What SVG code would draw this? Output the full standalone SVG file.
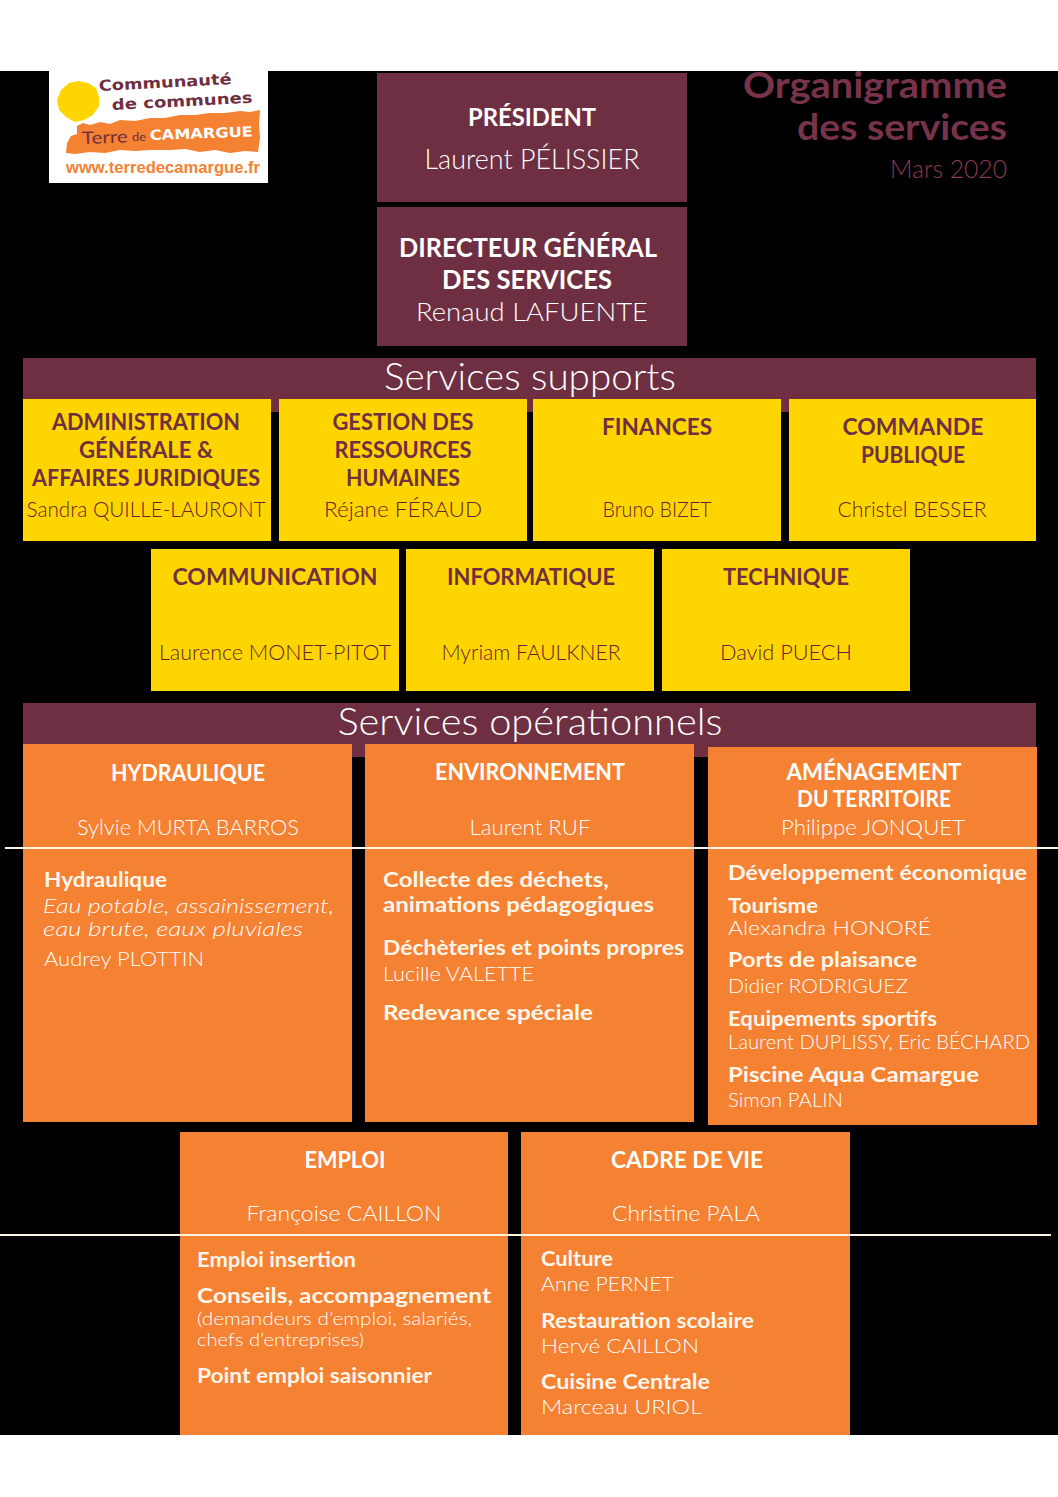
<svg xmlns="http://www.w3.org/2000/svg" width="1058" height="1497" viewBox="0 0 1058 1497">
<style>
text{font-family:"Lato","Open Sans","Liberation Sans",sans-serif;fill:#fff}
.b{font-weight:700}
.l{font-weight:300}
.m{text-anchor:middle}
.r{text-anchor:end}
.dk{fill:#6f2f42}
.tt{fill:#773349}
.h{font-size:23px;font-weight:700;fill:#6f2f42;text-anchor:middle}
.n{font-size:21px;font-weight:300;fill:#5f2436;text-anchor:middle}
.oh{font-size:22px;font-weight:700;text-anchor:middle}
.on{font-size:21px;font-weight:300;text-anchor:middle;fill:#fff}
.s{font-size:20px;font-weight:700;fill:#fff6ec}
.p{font-size:20px;font-weight:300;fill:#fff}
.q{font-size:18px;font-weight:300;fill:#fff}
.y{fill:#ffd500}.o{fill:#f58133}.mr{fill:#6f2f42}
.lg{font-family:"DejaVu Sans","Liberation Sans",sans-serif;font-weight:700;fill:#6f2f42}
</style>
<rect width="1058" height="1497" fill="#fff"/>
<rect y="71" width="1058" height="1364" fill="#000"/>
<g id="title">
<text class="r b tt" x="1007" y="98" font-size="37" textLength="264" lengthAdjust="spacingAndGlyphs">Organigramme</text>
<text class="r b tt" x="1007" y="140" font-size="37" textLength="210" lengthAdjust="spacingAndGlyphs">des services</text>
<text class="r" style="fill:#8a3c52" x="1007" y="178" font-size="26" font-weight="300" textLength="117" lengthAdjust="spacingAndGlyphs">Mars 2020</text>
</g>
<rect width="1058" height="71" fill="#fff"/>
<g id="logo">
<rect x="49" y="69" width="219" height="114" fill="#fff"/>
<path d="M78 81L88 83L96 88L99 97L99 106L93 115L84 120L75 122L66 117L59 110L57 100L61 90L69 83Z" fill="#ffd500"/>
<path class="o" d="M77 126L83 123L90 125L100 122L110 124L120 120L135 121L150 118L165 118L180 115L195 115L210 113L225 113L240 111L250 112L260 110L259 125L260 138L258 152L245 151L230 153L215 150L200 152L185 149L170 150L150 150L135 151L120 150L105 153L90 152L75 154L66 153L67 143L71 136L77 134Z"/>
<text class="lg" x="99" y="91" font-size="15" textLength="133" lengthAdjust="spacingAndGlyphs" transform="rotate(-3 99 91)">Communauté</text>
<text class="lg" x="112" y="110" font-size="15" textLength="141" lengthAdjust="spacingAndGlyphs" transform="rotate(-3 112 110)">de communes</text>
<text x="82" y="144" font-size="17" class="dk" textLength="46" lengthAdjust="spacingAndGlyphs" transform="rotate(-2 82 144)">Terre</text>
<text x="132" y="141" font-size="11" class="dk" textLength="14" lengthAdjust="spacingAndGlyphs">de</text>
<text class="lg" style="fill:#fff" x="150" y="140" font-size="14" textLength="103" lengthAdjust="spacingAndGlyphs" transform="rotate(-2 150 140)">CAMARGUE</text>
<text x="66" y="173" font-size="16" font-weight="700" style="fill:#f58133;font-family:'Liberation Sans',sans-serif" textLength="194" lengthAdjust="spacingAndGlyphs">www.terredecamargue.fr</text>
</g>
<g id="president">
<rect class="mr" x="377" y="73" width="310" height="129"/>
<text class="m b" x="532" y="126" font-size="25" textLength="128" lengthAdjust="spacingAndGlyphs">PRÉSIDENT</text>
<text class="m l" x="532" y="169" font-size="27" textLength="215" lengthAdjust="spacingAndGlyphs">Laurent PÉLISSIER</text>
</g>
<g id="dgs">
<rect class="mr" x="377" y="207" width="310" height="139"/>
<text class="m b" x="528" y="257" font-size="26" textLength="258" lengthAdjust="spacingAndGlyphs">DIRECTEUR GÉNÉRAL</text>
<text class="m b" x="527" y="289" font-size="26" textLength="170" lengthAdjust="spacingAndGlyphs">DES SERVICES</text>
<text class="m l" x="532" y="321" font-size="26" textLength="232" lengthAdjust="spacingAndGlyphs">Renaud LAFUENTE</text>
</g>
<g id="supports-bar">
<rect class="mr" x="23" y="358" width="1013" height="54"/>
<text class="m l" x="530" y="390" font-size="37" textLength="292" lengthAdjust="spacingAndGlyphs">Services supports</text>
</g>
<g id="admin">
<rect class="y" x="23" y="399" width="248" height="142"/>
<text class="h" x="146" y="430" textLength="188" lengthAdjust="spacingAndGlyphs">ADMINISTRATION</text>
<text class="h" x="146" y="458" textLength="134" lengthAdjust="spacingAndGlyphs">GÉNÉRALE &amp;</text>
<text class="h" x="146" y="486" textLength="228" lengthAdjust="spacingAndGlyphs">AFFAIRES JURIDIQUES</text>
<text class="n" x="146" y="517" textLength="239" lengthAdjust="spacingAndGlyphs">Sandra QUILLE-LAURONT</text>
</g>
<g id="grh">
<rect class="y" x="279" y="399" width="248" height="142"/>
<text class="h" x="403" y="430" textLength="141" lengthAdjust="spacingAndGlyphs">GESTION DES</text>
<text class="h" x="403" y="458" textLength="137" lengthAdjust="spacingAndGlyphs">RESSOURCES</text>
<text class="h" x="403" y="486" textLength="114" lengthAdjust="spacingAndGlyphs">HUMAINES</text>
<text class="n" x="403" y="517" textLength="158" lengthAdjust="spacingAndGlyphs">Réjane FÉRAUD</text>
</g>
<g id="finances">
<rect class="y" x="533" y="399" width="248" height="142"/>
<text class="h" x="657" y="435" textLength="110" lengthAdjust="spacingAndGlyphs">FINANCES</text>
<text class="n" x="657" y="517" textLength="109" lengthAdjust="spacingAndGlyphs">Bruno BIZET</text>
</g>
<g id="commande">
<rect class="y" x="789" y="399" width="247" height="142"/>
<text class="h" x="913" y="435" textLength="141" lengthAdjust="spacingAndGlyphs">COMMANDE</text>
<text class="h" x="913" y="463" textLength="104" lengthAdjust="spacingAndGlyphs">PUBLIQUE</text>
<text class="n" x="912" y="517" textLength="149" lengthAdjust="spacingAndGlyphs">Christel BESSER</text>
</g>
<g id="communication">
<rect class="y" x="151" y="549" width="248" height="142"/>
<text class="h" x="275" y="585" textLength="205" lengthAdjust="spacingAndGlyphs">COMMUNICATION</text>
<text class="n" x="275" y="660" textLength="232" lengthAdjust="spacingAndGlyphs">Laurence MONET-PITOT</text>
</g>
<g id="informatique">
<rect class="y" x="406" y="549" width="248" height="142"/>
<text class="h" x="531" y="585" textLength="168" lengthAdjust="spacingAndGlyphs">INFORMATIQUE</text>
<text class="n" x="531" y="660" textLength="179" lengthAdjust="spacingAndGlyphs">Myriam FAULKNER</text>
</g>
<g id="technique">
<rect class="y" x="662" y="549" width="248" height="142"/>
<text class="h" x="786" y="585" textLength="126" lengthAdjust="spacingAndGlyphs">TECHNIQUE</text>
<text class="n" x="786" y="660" textLength="132" lengthAdjust="spacingAndGlyphs">David PUECH</text>
</g>
<g id="operationnels-bar">
<rect class="mr" x="23" y="703" width="1013" height="54"/>
<text class="m l" x="530" y="735" font-size="37" textLength="385" lengthAdjust="spacingAndGlyphs">Services opérationnels</text>
</g>
<g id="hydraulique">
<rect class="o" x="23" y="744" width="329" height="378"/>
<text class="oh" x="188" y="781" textLength="154" lengthAdjust="spacingAndGlyphs">HYDRAULIQUE</text>
<text class="on" x="188" y="835" textLength="222" lengthAdjust="spacingAndGlyphs">Sylvie MURTA BARROS</text>
<text class="s" x="44" y="887" textLength="123" lengthAdjust="spacingAndGlyphs">Hydraulique</text>
<text class="p" x="43" y="913" font-style="italic" textLength="291" lengthAdjust="spacingAndGlyphs">Eau potable, assainissement,</text>
<text class="p" x="43" y="936" font-style="italic" textLength="260" lengthAdjust="spacingAndGlyphs">eau brute, eaux pluviales</text>
<text class="p" x="44" y="966" textLength="160" lengthAdjust="spacingAndGlyphs">Audrey PLOTTIN</text>
</g>
<g id="environnement">
<rect class="o" x="365" y="744" width="329" height="378"/>
<text class="oh" x="530" y="780" textLength="190" lengthAdjust="spacingAndGlyphs">ENVIRONNEMENT</text>
<text class="on" x="530" y="835" textLength="121" lengthAdjust="spacingAndGlyphs">Laurent RUF</text>
<text class="s" x="383" y="887" textLength="226" lengthAdjust="spacingAndGlyphs">Collecte des déchets,</text>
<text class="s" x="383" y="912" textLength="271" lengthAdjust="spacingAndGlyphs">animations pédagogiques</text>
<text class="s" x="383" y="955" textLength="301" lengthAdjust="spacingAndGlyphs">Déchèteries et points propres</text>
<text class="p" x="383" y="981" textLength="151" lengthAdjust="spacingAndGlyphs">Lucille VALETTE</text>
<text class="s" x="383" y="1020" textLength="210" lengthAdjust="spacingAndGlyphs">Redevance spéciale</text>
</g>
<g id="amenagement">
<rect class="o" x="708" y="747" width="329" height="378"/>
<text class="oh" x="874" y="780" textLength="175" lengthAdjust="spacingAndGlyphs">AMÉNAGEMENT</text>
<text class="oh" x="874" y="807" textLength="154" lengthAdjust="spacingAndGlyphs">DU TERRITOIRE</text>
<text class="on" x="873" y="835" textLength="184" lengthAdjust="spacingAndGlyphs">Philippe JONQUET</text>
<text class="s" x="728" y="880" textLength="299" lengthAdjust="spacingAndGlyphs">Développement économique</text>
<text class="s" x="728" y="913" textLength="90" lengthAdjust="spacingAndGlyphs">Tourisme</text>
<text class="p" x="728" y="935" textLength="203" lengthAdjust="spacingAndGlyphs">Alexandra HONORÉ</text>
<text class="s" x="728" y="967" textLength="189" lengthAdjust="spacingAndGlyphs">Ports de plaisance</text>
<text class="p" x="728" y="993" textLength="180" lengthAdjust="spacingAndGlyphs">Didier RODRIGUEZ</text>
<text class="s" x="728" y="1026" textLength="209" lengthAdjust="spacingAndGlyphs">Equipements sportifs</text>
<text class="p" x="728" y="1049" textLength="302" lengthAdjust="spacingAndGlyphs">Laurent DUPLISSY, Eric BÉCHARD</text>
<text class="s" x="728" y="1082" textLength="251" lengthAdjust="spacingAndGlyphs">Piscine Aqua Camargue</text>
<text class="p" x="728" y="1107" textLength="115" lengthAdjust="spacingAndGlyphs">Simon PALIN</text>
</g>
<g id="emploi">
<rect class="o" x="180" y="1132" width="328" height="303"/>
<text class="oh" x="345" y="1168" textLength="81" lengthAdjust="spacingAndGlyphs">EMPLOI</text>
<text class="on" x="344" y="1221" textLength="195" lengthAdjust="spacingAndGlyphs">Françoise CAILLON</text>
<text class="s" x="197" y="1267" textLength="159" lengthAdjust="spacingAndGlyphs">Emploi insertion</text>
<text class="s" x="197" y="1303" textLength="294" lengthAdjust="spacingAndGlyphs">Conseils, accompagnement</text>
<text class="q" x="197" y="1325" textLength="275" lengthAdjust="spacingAndGlyphs">(demandeurs d’emploi, salariés,</text>
<text class="q" x="197" y="1346" textLength="167" lengthAdjust="spacingAndGlyphs">chefs d’entreprises)</text>
<text class="s" x="197" y="1383" textLength="235" lengthAdjust="spacingAndGlyphs">Point emploi saisonnier</text>
</g>
<g id="cadre-de-vie">
<rect class="o" x="521" y="1132" width="329" height="303"/>
<text class="oh" x="687" y="1168" textLength="152" lengthAdjust="spacingAndGlyphs">CADRE DE VIE</text>
<text class="on" x="686" y="1221" textLength="148" lengthAdjust="spacingAndGlyphs">Christine PALA</text>
<text class="s" x="541" y="1266" textLength="72" lengthAdjust="spacingAndGlyphs">Culture</text>
<text class="p" x="541" y="1291" textLength="133" lengthAdjust="spacingAndGlyphs">Anne PERNET</text>
<text class="s" x="541" y="1328" textLength="213" lengthAdjust="spacingAndGlyphs">Restauration scolaire</text>
<text class="p" x="541" y="1353" textLength="158" lengthAdjust="spacingAndGlyphs">Hervé CAILLON</text>
<text class="s" x="541" y="1389" textLength="169" lengthAdjust="spacingAndGlyphs">Cuisine Centrale</text>
<text class="p" x="541" y="1414" textLength="161" lengthAdjust="spacingAndGlyphs">Marceau URIOL</text>
</g>
<g id="connectors" stroke="#fdf3e3" stroke-width="2">
<line x1="5" y1="848" x2="1058" y2="848"/>
<line x1="0" y1="1235" x2="1051" y2="1235"/>
</g>
</svg>
